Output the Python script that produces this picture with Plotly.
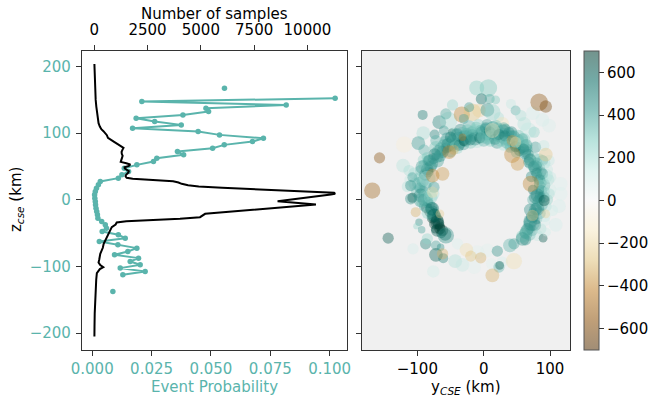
import plotly.graph_objects as go

TEAL = "#5ab4ac"
AX = "#333333"
FONT = "DejaVu Sans"
FS = 15

# ---------------- Left panel: event probability vs z (5 km bins) ----------------
prob_z = [167.5, 162.5, 157.5, 152.5, 147.5, 142.5, 137.5, 132.5, 127.5, 122.5,
          117.5, 112.5, 107.5, 102.5, 97.5, 92.5, 87.5, 82.5, 77.5, 72.5,
          67.5, 62.5, 57.5, 52.5, 47.5, 42.5, 37.5, 32.5, 27.5, 22.5,
          17.5, 12.5, 7.5, 2.5, -2.5, -7.5, -12.5, -17.5, -22.5, -27.5,
          -32.5, -37.5, -42.5, -47.5, -52.5, -57.5, -62.5, -67.5, -72.5, -77.5,
          -82.5, -87.5, -92.5, -97.5, -102.5, -107.5, -112.5, -117.5, -122.5, -127.5,
          -132.5, -137.5]
prob_vals = [0.0557, None, None, 0.1023, 0.0209, 0.0817, 0.0479, 0.0490, 0.0382, 0.0185,
             0.0263, 0.0375, 0.0170, 0.0446, 0.0536, 0.0721, 0.0675, 0.0556, 0.0507, 0.0359,
             0.0385, 0.0272, 0.0258, 0.0188, 0.0135, 0.0153, 0.0125, 0.0110, 0.0034, 0.0026,
             0.0018, 0.0013, 0.0010, 0.0011, 0.0013, 0.0014, 0.0016, 0.0019, 0.0022, 0.0024,
             0.0040, 0.0055, 0.0060, 0.0042, 0.0110, 0.0139, 0.0030, 0.0108, 0.0188, 0.0150,
             0.0094, 0.0195, 0.0160, 0.0202, 0.0118, 0.0223, 0.0129, None, None, None,
             None, 0.0087]

# number of samples vs z
samples_z = [204, 190, 175, 160, 150, 140, 130, 122, 115, 110, 106, 103, 100, 97, 93,
             90, 87, 84, 81, 78, 75, 72, 69, 66, 63, 60, 57, 55, 53, 51,
             49, 47, 45, 43, 41, 39, 37, 35, 33, 31.5, 30, 28, 26, 24, 22,
             20, 18, 16, 14, 12, 10.5, 9, 8, -2, -7, -21, -26, -28.5, -30, -32,
             -34, -37, -41, -45, -51, -58, -66, -72, -81, -90, -94, -98, -101, -104, -110,
             -120, -135, -150, -170, -190, -205]
samples_n = [5, 15, 30, 45, 65, 95, 130, 170, 200, 260, 330, 430, 520, 590, 640,
             760, 930, 1080, 1250, 1370, 1320, 1280, 1290, 1330, 1300, 1260, 1240, 1500, 1690, 1620,
             1420, 1430, 1550, 1620, 1600, 1530, 1480, 1470, 1520, 1800, 3000, 3700, 3950, 4100, 4400,
             4900, 6000, 7600, 9200, 10700, 11250, 11300, 11100, 8600, 10400, 5200, 4960, 4020, 2500, 1500,
             1050, 1000, 820, 760, 650, 560, 440, 400, 280, 230, 200, 280, 420, 260, 120,
             90, 60, 35, 20, 10, 5]

prob_ticks = [0, 0.025, 0.05, 0.075, 0.1]
sample_ticks = [0, 2500, 5000, 7500, 10000]
z_ticks = [-200, -100, 0, 100, 200]
ycse_ticks = [-100, 0, 100]
cbar_ticks = [-600, -400, -200, 0, 200, 400, 600]

# ---------------- Right panel: events (y_cse, z_cse, value, size) ----------------
upper_cloud = [
    (-10.6, 168, 280, 12), (7, 168, 300, 14), (-3.5, 151.5, 560, 9), (9, 151.5, 380, 8), (18, 150, 300, 7),
    (-47, 142.5, 250, 9), (-92, 127.5, 520, 8), (-67, 116.5, 480, 11), (-53, 119, 200, 14), (-57, 129, 380, 9),
    (-33, 128, -420, 13), (-17, 131.5, -280, 14), (-7, 134, -220, 11), (-22, 139, 420, 8), (5.5, 135, 450, 11),
    (13, 131.5, 250, 13), (-30, 121.5, 400, 8), (23, 124, 200, 8), (28, 114, -160, 11), (41, 144, 150, 8),
    (48, 134, 350, 8), (56, 126.5, 200, 9), (74, 130, 100, 11), (88.5, 120, 100, 11), (98.5, 111.5, 90, 11),
    (83.5, 146.5, -560, 14), (93.5, 140, -620, 10), (61, 114, 180, 11), (67, 104, 150, 13), (76, 101.5, 250, 9),
]
outliers = [
    (-120, 83, -80, 13), (-157, 63, -580, 9), (-168, 14, -520, 13), (-144, -57.5, 620, 9),
]
arc_top = [
    (-91, 100, 200, 11), (-74, 98, 480, 8), (-98.5, 85, 420, 11), (-90, 75, 350, 9), (-72, 89, 350, 9),
    (-48, 101.5, 650, 6), (-60, 104, 400, 8), (-42, 96.5, 300, 11), (-22, 98, 420, 9), (-7, 101.5, 150, 11),
    (3, 99, 400, 11), (20.5, 101.5, 450, 9), (33, 106.5, 400, 8), (58.5, 91.5, 450, 9), (63, 79, 200, 11),
    (78, 79, 400, 9), (90.5, 81.5, 150, 9), (98.5, 59, 150, 9), (88.5, 59, 400, 9),
    (-64, 76, 450, 11), (-60, 82, 380, 10), (-56, 78, 520, 9), (-52, 86, 300, 10), (-48, 80, 600, 8),
    (-45, 90, 420, 11), (-42, 84, 350, 9), (-38, 93, 500, 10), (-35, 87, 280, 10), (-31, 96, 450, 9),
    (-28, 90, 550, 11), (-25, 99, 380, 10), (-22, 93, 300, 9), (-18, 101, 420, 10), (-15, 95, 500, 9),
    (-12, 103, 200, 11), (-9, 97, 350, 10), (-5, 104, 450, 9), (-2, 98, 150, 12), (2, 105, 380, 10),
    (5, 99, 480, 10), (8, 106, 250, 11), (11, 100, 400, 9), (15, 104, 320, 10), (18, 97, 500, 9),
    (21, 102, 200, 11), (25, 95, 420, 10), (28, 100, 350, 9), (31, 92, 480, 10), (34, 97, 300, 10),
    (37, 89, 450, 9), (41, 94, 380, 11), (44, 86, 520, 10), (47, 90, 250, 9), (50, 82, 420, 10),
    (53, 86, 350, 10), (56, 78, 480, 9), (59, 81, 300, 11), (62, 73, 450, 10), (65, 76, 380, 9),
    (-50, 72, 350, 9), (-40, 78, 250, 10), (-30, 83, 400, 9), (-20, 86, 300, 10), (-10, 88, 180, 11),
    (0, 89, 350, 10), (10, 88, 280, 9), (20, 86, 420, 10), (30, 83, 200, 10), (40, 79, 350, 9),
    (50, 72, 300, 10), (-55, 92, 400, 10), (-45, 100, 300, 9), (-35, 105, 450, 10), (-22, 109, 350, 11),
    (-8, 112, 250, 10), (5, 113, 400, 9), (18, 111, 300, 10), (30, 107, 380, 10), (42, 102, 450, 9),
    (52, 96, 300, 10), (60, 90, 250, 11),
]
arc_fill = [
    (-62, 72, 500, 10), (-58, 88, 350, 9), (-54, 82, 450, 11), (-50, 94, 520, 9), (-46, 86, 380, 10),
    (-43, 80, 300, 9), (-40, 98, 450, 10), (-37, 82, 520, 9), (-33, 100, 350, 10), (-30, 88, 600, 8),
    (-27, 94, 420, 11), (-24, 104, 300, 10), (-20, 90, 500, 9), (-17, 97, 380, 10), (-13, 92, 450, 11),
    (-11, 108, 300, 10), (-6, 93, 550, 9), (-3, 101, 420, 10), (0, 95, 300, 11), (3, 108, 450, 9),
    (6, 92, 350, 10), (9, 102, 520, 9), (12, 95, 300, 11), (14, 109, 400, 10), (17, 91, 450, 9),
    (20, 107, 350, 10), (23, 98, 550, 9), (26, 90, 300, 11), (29, 104, 420, 10), (32, 96, 500, 9),
    (35, 86, 350, 10), (38, 101, 450, 9), (41, 84, 300, 11), (45, 95, 420, 10), (48, 80, 500, 9),
    (51, 90, 350, 10), (54, 74, 450, 9), (57, 86, 300, 11), (60, 76, 520, 9), (64, 82, 380, 10),
    (67, 68, 450, 9), (-66, 66, 450, 10), (-70, 64, 380, 9), (-72, 78, 300, 11), (-78, 54, 450, 10),
    (-84, 42, 550, 9), (-88, 22, 400, 10), (-92, 14, 350, 9), (-90, 0, 500, 10), (-86, -12, 600, 9),
    (-81, -18, 650, 9), (-78, -28, 700, 8), (-74, -36, 680, 9), (-70, -46, 600, 10), (-91, 60, 250, 9),
    (76, 62, 300, 10), (80, 55, 450, 9), (83, 48, 350, 10), (86, 42, 500, 9), (88, 32, 300, 10),
    (90, 22, 450, 11), (91, 12, 350, 9), (90, 4, 520, 10), (88, -8, 400, 9), (84, -20, 450, 10),
    (80, -28, 350, 9), (77, -38, 500, 10), (73, -46, 400, 9), (69, -52, 350, 10), (63, -60, 450, 9),
    (84, 60, 250, 10), (94, 36, 200, 11),
]
arc_left = [
    (-100, 12, 320, 10), (-96, 18, 420, 9), (-104, 24, 250, 10), (-92, 28, 380, 10), (-98, 33, 300, 8),
    (-88, 38, 450, 10), (-95, 44, 350, 9), (-85, 46, 500, 10), (-90, 52, 280, 9), (-80, 50, 420, 10),
    (-82, 58, 380, 11), (-76, 62, 450, 9), (-74, 68, 520, 10), (-68, 72, 400, 11), (-86, 64, 300, 8),
    (-105, 40, 200, 9), (-110, 30, 150, 10), (-115, 20, 180, 9),
    (-121.5, 51.5, 180, 11), (-112.5, 44, 200, 9), (-107.5, 34, 400, 8), (-110, 21.5, 450, 9),
    (-97.5, 24, 350, 11), (-92.5, 49, 400, 11), (-82.5, 59, 450, 9), (-107.5, 3, 650, 8), (-95, 6.5, 450, 11),
    (-77, 9, 200, 11), (-85, 31.5, 200, 13), (-70, 59, 400, 11), (-75, 19, 420, 9),
    (-58, -52, 560, 10), (-62, -46, 680, 9), (-66, -40, 700, 8), (-68, -36, 650, 9), (-70, -31, 620, 10),
    (-72, -26, 600, 9), (-75, -22, 480, 10), (-77, -17, 520, 9), (-79, -12, 430, 10), (-82, -7, 380, 9),
    (-84, -3, 450, 8), (-86, 2, 350, 10), (-88, 7, 300, 9), (-90, -10, 400, 8), (-73, -44, 640, 7),
    (-64, -50, 600, 8), (-80, -25, 350, 7), (-94, -4, 280, 8), (-85, -20, 250, 9),
]
arc_right = [
    (62, 70, 400, 10), (66, 64, 350, 9), (70, 60, 480, 10), (72, 55, 300, 11), (75, 50, 420, 9),
    (78, 45, 380, 10), (80, 40, 500, 9), (82, 35, 300, 10), (84, 30, 450, 9), (85, 25, 380, 10),
    (86, 20, 250, 11), (87, 14, 420, 9), (86, 9, 350, 10), (85, 4, 480, 9), (83, -2, 400, 10),
    (80, -8, 300, 9), (78, -14, 450, 10), (75, -20, 380, 9), (73, -26, 500, 10), (70, -32, 420, 11),
    (68, -38, 350, 9), (66, -44, 450, 10), (62, -50, 380, 9), (58, -55, 300, 10),
    (92, 55, 200, 9), (95, 45, 150, 10), (98, 30, 200, 9), (100, 15, 120, 10), (96, 0, 250, 9),
    (95, -10, 200, 8), (92, -25, 150, 9), (72, 35, 450, 9), (74, 15, 500, 8), (74, 0, 350, 9),
    (70, -15, 450, 10), (68, 56.5, 450, 9), (78, 49, 400, 11), (88.5, 39, 420, 9), (101, 34, 150, 9),
    (116, 24, 80, 11), (116, 9, 80, 11), (81, 6.5, 450, 11), (98.5, 9, 200, 9),
]
arc_bottom = [
    (-110, 1.5, 450, 9), (-95, -1, 400, 11), (-80, 4, 250, 11), (-97.5, -33.5, 450, 6),
    (-101.5, -39.5, 250, 5), (-93.5, -45, 400, 6), (-77.5, -13.5, 550, 11), (-75, -23.5, 580, 11), (-70, -33.5, 650, 11),
    (-66, -43.5, 720, 9), (-57, -53.5, 450, 13), (-106.5, -73.5, 100, 9), (-87.5, -66, 500, 9), (-85, -58.5, 250, 9),
    (-72, -68.5, 400, 8), (-72, -82.5, 600, 11), (-61, -87.5, 500, 8), (-65, -71, 450, 6),
    (-76, -107.5, 120, 10), (-43, -92, 200, 11), (-32, -97.5, 150, 11), (-39.5, -66, 80, 9),
    (-9.5, -78.5, 60, 11), (-14.5, -101, 60, 11), (5.5, -76, 60, 11),
    (12, -96, 60, 9), (20.5, -77, 450, 9), (23, -101, 350, 9), (28, -93.5, 100, 9),
    (24, -98.5, 600, 7), (39.5, -68.5, 350, 11), (45.5, -66, 400, 9), (58.5, -58.5, 450, 11),
    (64.5, -48.5, 380, 11), (72.5, -34.5, 450, 13), (81, -53.5, 150, 9), (86, -43.5, 200, 9), (89.5, -57.5, 620, 7),
    (94.5, -48.5, 120, 7), (93.5, -32.5, 100, 7), (108.5, -37.5, 100, 11), (81, -13.5, 450, 11),
    (103.5, -16, 120, 9), (113.5, -9.5, 100, 11), (78.5, 4, 450, 11), (91, -1, 620, 9),
]
# negative-valued (brown) events
brown_events = [
    (-32, 94, -450, 6), (13, 104, -150, 12), (43, 89, -380, 9), (48, 86.5, -200, 9), (-45, 75, -300, 8),
    (93.5, 68, -260, 11), (43, 67.5, -420, 13), (51, 54, -380, 11), (-52, 71.5, -420, 11),
    (-62, 39, -380, 11), (-77, 36.5, -420, 11), (-66, -21, -250, 7), (-77, 11.5, -180, 9),
    (71, 24, -420, 13), (-102.5, -18.5, -320, 8), (-62, -81, -320, 9), (-26, -75, -180, 11),
    (-19.5, -84.5, -280, 9), (-4.5, -87, -320, 9), (13, -113.5, -320, 11), (45.5, -92, -180, 13),
    (73.5, -23.5, -260, 9), (93.5, -21, -220, 7),
]

events = upper_cloud + outliers + arc_top + arc_fill + arc_left + arc_right + arc_bottom + brown_events
ev_y = [p[0] for p in events]
ev_z = [p[1] for p in events]
ev_v = [p[2] for p in events]
ev_s = [p[3] for p in events]

# BrBG colormap with transparency
brbg = ["#543005", "#8c510a", "#bf812d", "#dfc27d", "#f6e8c3", "#f5f5f5",
        "#c7eae5", "#80cdc1", "#35978f", "#01665e", "#003c30"]
ALPHA = 0.55
def rgba(h, a):
    h = h.lstrip("#")
    return "rgba(%d,%d,%d,%.2f)" % (int(h[0:2], 16), int(h[2:4], 16), int(h[4:6], 16), a)
cscale = [[i / (len(brbg) - 1), rgba(c, ALPHA)] for i, c in enumerate(brbg)]

W, H = 656, 402
def px(x): return x / W
def py(y): return 1 - y / H

fig = go.Figure()
fig.add_trace(go.Scatter(x=prob_vals, y=prob_z, mode="lines+markers",
                         line=dict(color=TEAL, width=2), marker=dict(size=5.5, color=TEAL),
                         connectgaps=False, xaxis="x", yaxis="y", showlegend=False))
fig.add_trace(go.Scatter(x=samples_n, y=samples_z, mode="lines",
                         line=dict(color="black", width=2),
                         xaxis="x2", yaxis="y", showlegend=False))
fig.add_trace(go.Scatter(
    x=ev_y, y=ev_z, mode="markers", xaxis="x3", yaxis="y2", showlegend=False,
    marker=dict(size=ev_s, sizemode="diameter", sizeref=0.8,
                color=ev_v, colorscale=cscale, cmin=-700, cmax=700,
                line=dict(width=0),
                colorbar=dict(x=px(584), xanchor="left", xpad=0, ypad=0,
                              y=py(200.5), yanchor="middle", len=299 / H, lenmode="fraction",
                              thickness=15, thicknessmode="pixels",
                              outlinewidth=1, outlinecolor="#555",
                              tickvals=cbar_ticks, ticks="outside", ticklen=5, tickcolor=AX,
                              tickfont=dict(size=FS, color="black", family=FONT)))))

common = dict(showgrid=False, zeroline=False, showline=True, linecolor=AX, linewidth=1.2,
              ticks="outside", ticklen=5, tickwidth=1.2, tickcolor=AX, automargin=False)
ydom = [py(350), py(51)]
fig.update_layout(
    width=W, height=H, margin=dict(l=0, r=0, t=0, b=0, autoexpand=False),
    paper_bgcolor="white", plot_bgcolor="white",
    font=dict(family=FONT, size=FS, color="black"),
    xaxis=dict(domain=[px(82), px(347)], range=[-0.0043, 0.1073], anchor="y",
               tickvals=prob_ticks, tickformat=".3f", tickfont=dict(color=TEAL, size=FS), **common),
    xaxis2=dict(overlaying="x", side="top", anchor="y", range=[-577, 11857], ticklabelstandoff=4,
                tickvals=sample_ticks, tickformat="d", tickfont=dict(color="black", size=FS), **common),
    yaxis=dict(domain=ydom, range=[-225.4, 223.4], anchor="x", mirror=True, ticklabelstandoff=2,
               tickvals=z_ticks, tickfont=dict(color=TEAL, size=FS), **common),
    xaxis3=dict(domain=[px(362), px(570)], range=[-183.4, 130], anchor="y2", mirror=True,
                tickvals=ycse_ticks, tickfont=dict(color="black", size=FS), **common),
    yaxis2=dict(domain=ydom, range=[-225.4, 223.4], anchor="x3", mirror=True,
                tickvals=z_ticks, showticklabels=False, **common),
    shapes=[dict(type="rect", xref="x3 domain", yref="y2 domain", x0=0, x1=1, y0=0, y1=1,
                 fillcolor="#f0f0f0", line=dict(width=0), layer="below")],
    annotations=[
        dict(text="Number of samples", x=px(214), y=py(14), xref="paper", yref="paper",
             xanchor="center", yanchor="middle",
             showarrow=False, font=dict(size=FS, color="black")),
        dict(text="Event Probability", x=px(214.5), y=py(387), xref="paper", yref="paper",
             xanchor="center", yanchor="middle",
             showarrow=False, font=dict(size=FS, color=TEAL)),
        dict(text="y<sub><i>CSE</i></sub> (km)", x=px(466), y=py(387), xref="paper", yref="paper",
             xanchor="center", yanchor="middle",
             showarrow=False, font=dict(size=FS, color="black")),
        dict(text="z<sub><i>cse</i></sub> (km)", x=px(17), y=py(200), xref="paper", yref="paper",
             xanchor="center", yanchor="middle",
             showarrow=False, textangle=-90, font=dict(size=FS, color="black")),
    ],
)
fig.write_html("out.html")
